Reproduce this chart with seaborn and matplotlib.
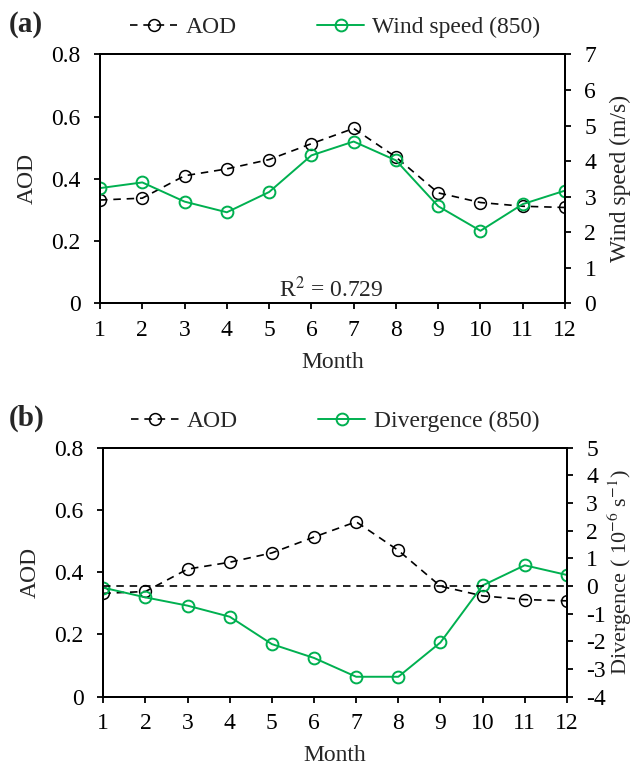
import matplotlib
matplotlib.use('Agg')
import matplotlib.pyplot as plt
import seaborn as sns
import numpy as np

sns.set_style('ticks')
plt.rcParams['font.family'] = ['Liberation Serif', 'DejaVu Serif']
plt.rcParams['mathtext.fontset'] = 'stix'
plt.rcParams['axes.unicode_minus'] = False

# 数据
months = np.arange(1, 13)
aod = [0.332, 0.338, 0.41, 0.432, 0.462, 0.513, 0.562, 0.47, 0.355, 0.324, 0.312, 0.308]
wind_speed = [3.24, 3.40, 2.86, 2.56, 3.13, 4.16, 4.55, 4.02, 2.73, 2.04, 2.79, 3.17]
divergence = [-0.06, -0.41, -0.71, -1.11, -2.10, -2.60, -3.28, -3.28, -2.04, 0.02, 0.75, 0.40]
r2_text = 'R$^2$ = 0.729'

GREEN = '#00B050'
FS = 17
DASH = (0, (4.5, 3.5))


def style_axis(ax, twin):
    for a in (ax, twin):
        for s in a.spines.values():
            s.set_linewidth(1.4)
            s.set_color('black')
        a.tick_params(direction='out', length=4, width=1.3, labelsize=FS,
                      colors='black')
        a.tick_params(axis='y', pad=10)
        a.tick_params(axis='x', pad=8)
    ax.set_xlim(1, 12)
    ax.set_xticks(months)
    ax.set_ylim(0, 0.8)
    ax.set_yticks([0, 0.2, 0.4, 0.6, 0.8])
    ax.set_yticklabels(['0', '0.2', '0.4', '0.6', '0.8'])
    ax.set_xlabel('Month', fontsize=FS, labelpad=8)
    ax.set_ylabel('AOD', fontsize=FS, labelpad=10)
    ax.margins(x=0)


def draw_panel(ax, values, label, ylim, yticks, ylabel, tag, leg_y, lab_x, lab_fs):
    twin = ax.twinx()
    sns.lineplot(x=months, y=aod, ax=ax, color='black', linestyle=DASH,
                 marker='o', markersize=8.5, markerfacecolor='none',
                 markeredgecolor='black', markeredgewidth=1.1, linewidth=1.2,
                 label='AOD', legend=False)
    sns.lineplot(x=months, y=values, ax=twin, color=GREEN, linestyle='-',
                 marker='o', markersize=8.5, markerfacecolor='none',
                 markeredgecolor=GREEN, markeredgewidth=1.4, linewidth=1.4,
                 label=label, legend=False)
    twin.set_ylim(*ylim)
    twin.set_yticks(yticks)
    twin.set_ylabel(ylabel, fontsize=lab_fs)
    twin.yaxis.set_label_coords(lab_x, 0.5)
    style_axis(ax, twin)
    h1, l1 = ax.get_legend_handles_labels()
    h2, l2 = twin.get_legend_handles_labels()
    for a in (ax, twin):
        if a.get_legend() is not None:
            a.get_legend().remove()
    ax.figure.legend(h1 + h2, l1 + l2, loc='center', ncol=2, frameon=False,
                     fontsize=FS, bbox_to_anchor=(0.528, leg_y), columnspacing=3.4,
                     handlelength=2.0, handletextpad=0.35)
    ax.figure.text(0.014, leg_y + 0.004, tag, fontsize=21, fontweight='bold',
                   va='center', ha='left')
    return twin


fig = plt.figure(figsize=(6.35, 7.66), dpi=100)
ax1 = fig.add_axes([0.1575, 0.604, 0.7323, 0.325])
ax2 = fig.add_axes([0.1627, 0.0905, 0.730, 0.325])

draw_panel(ax1, wind_speed, 'Wind speed (850)', (0, 7), range(0, 8),
           'Wind speed (m/s)', '(a)', 0.964, 1.097, FS)
ax1.text(6.48, 0.02, r2_text, ha='center', va='baseline', fontsize=FS)

tw2 = draw_panel(ax2, divergence, 'Divergence (850)', (-4, 5), range(-4, 6),
                 'Divergence ( 10$^{-6}$ s$^{-1}$)', '(b)', 0.450, 1.084, 16)
tw2.axhline(0, color='black', linestyle=DASH, linewidth=1.2)

fig.savefig('out.png', dpi=100)
